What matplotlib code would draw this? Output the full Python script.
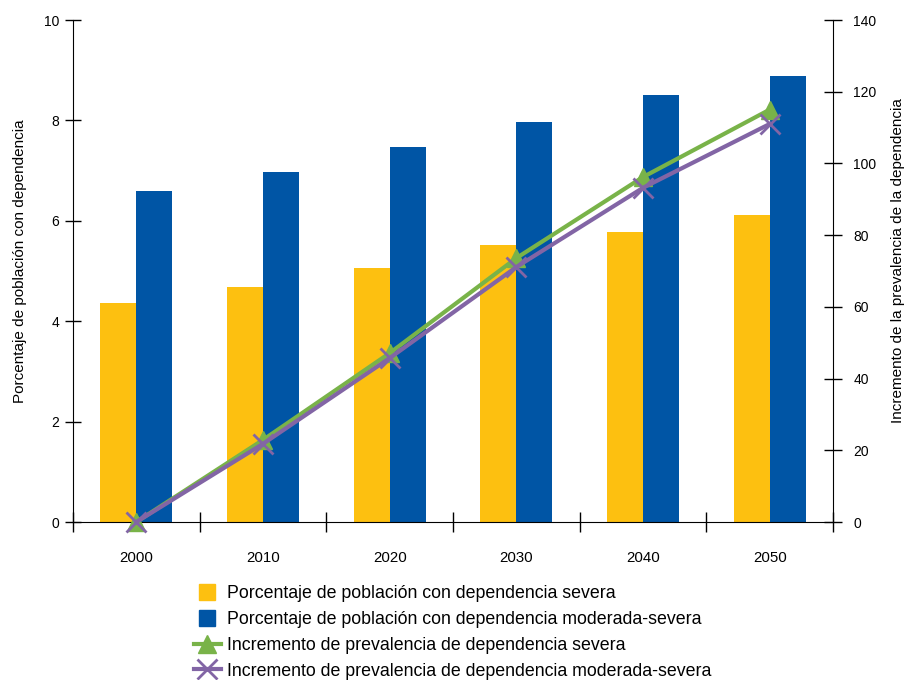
import matplotlib.pyplot as plt
from matplotlib.lines import Line2D
import numpy as np

plt.rcParams['font.family'] = ['Liberation Sans', 'DejaVu Sans']

years = ['2000', '2010', '2020', '2030', '2040', '2050']
pct_severa = [4.36, 4.68, 5.06, 5.52, 5.78, 6.12]
pct_moderada = [6.59, 6.97, 7.47, 7.97, 8.51, 8.88]
inc_severa = [0, 22.9, 47.1, 73.6, 96.2, 115.0]
inc_moderada = [0, 21.8, 45.7, 71.1, 93.2, 111.0]

yellow = '#FDC010'
blue = '#0055A5'
green = '#79B349'
purple = '#8265A5'

fig = plt.figure(figsize=(9.06, 6.8), dpi=100)
ax = fig.add_axes([73 / 906, 1 - 522 / 680, 760 / 906, 502 / 680])
x = np.arange(len(years))
w = 0.285
ax.bar(x - w / 2, pct_severa, w, color=yellow)
ax.bar(x + w / 2, pct_moderada, w, color=blue)
ax.set_xlim(-0.5, len(years) - 0.5)
ax.set_ylim(0, 10)
ax.set_yticks([0, 2, 4, 6, 8, 10])
ax.set_xticks(np.arange(len(years) + 1) - 0.5)
ax.set_xticklabels([])
ax.set_xticks(x, minor=True)
ax.set_xticklabels(years, minor=True)
ax.tick_params(axis='x', which='major', direction='inout', length=15, width=1)
ax.tick_params(axis='x', which='minor', length=0, pad=21, labelsize=10.8)
ax.tick_params(axis='y', direction='inout', length=12, width=1, labelsize=10, pad=4)
ax.spines['top'].set_visible(False)
ax.spines['right'].set_visible(False)
ax.set_ylabel('Porcentaje de población con dependencia', fontsize=11)
ax.yaxis.set_label_coords(-0.06, 0.52)

ax2 = ax.twinx()
ax2.plot(x, inc_severa, color=green, lw=3, marker='^', ms=13, clip_on=False)
ax2.plot(x, inc_moderada, color=purple, lw=3, marker='x', ms=15, mew=2, clip_on=False)
ax2.set_ylim(0, 140)
ax2.set_yticks([0, 20, 40, 60, 80, 100, 120, 140])
ax2.tick_params(axis='y', direction='inout', length=13, width=1, labelsize=10, pad=8)
ax2.spines['top'].set_visible(False)
ax2.spines['left'].set_visible(False)
ax2.spines['bottom'].set_visible(False)
ax2.set_ylabel('Incremento de la prevalencia de la dependencia', fontsize=11)
ax2.yaxis.set_label_coords(1.076, 0.52)

handles = [
    Line2D([], [], ls='none', marker='s', ms=11, color=yellow),
    Line2D([], [], ls='none', marker='s', ms=11, color=blue),
    Line2D([], [], color=green, lw=3, marker='^', ms=13),
    Line2D([], [], color=purple, lw=3, marker='x', ms=15, mew=2),
]
labels = [
    'Porcentaje de población con dependencia severa',
    'Porcentaje de población con dependencia moderada-severa',
    'Incremento de prevalencia de dependencia severa',
    'Incremento de prevalencia de dependencia moderada-severa',
]
fig.legend(handles, labels, loc='upper left', bbox_to_anchor=(194 / 906, 1 - 585 / 680),
           frameon=False, fontsize=12.8, handlelength=1.5, handletextpad=0.35,
           labelspacing=0.5, borderpad=0, borderaxespad=0)

fig.savefig('out.png', dpi=100)
